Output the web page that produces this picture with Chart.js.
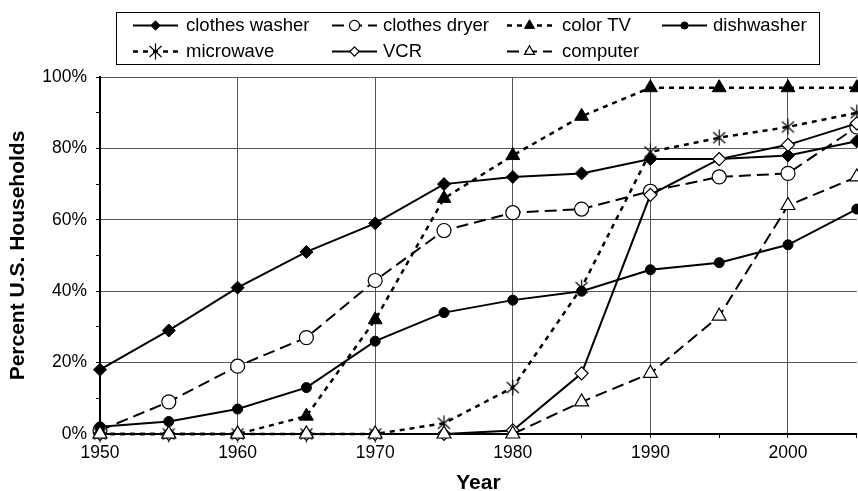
<!DOCTYPE html>
<html>
<head>
<meta charset="utf-8">
<script src="https://cdn.jsdelivr.net/npm/chart.js@4.4.1/dist/chart.umd.min.js"></script>
<style>
html, body { margin: 0; padding: 0; background: #fff; overflow: hidden; }
#wrap { width: 866px; height: 491px; }
</style>
</head>
<body>
<div id="wrap"><canvas id="homeChart"></canvas></div>
<script>
const years = [1950, 1955, 1960, 1965, 1970, 1975, 1980, 1985, 1990, 1995, 2000, 2005];
const yearLabels = ['1950', '1960', '1970', '1980', '1990', '2000'];
const pctLabels = ['0%', '20%', '40%', '60%', '80%', '100%'];

const washer = [18, 29, 41, 51, 59, 70, 72, 73, 77, 77, 78, 82];
const dryer = [1, 9, 19, 27, 43, 57, 62, 63, 68, 72, 73, 86];
const colorTV = [0, 0, 0, 5, 32, 66, 78, 89, 97, 97, 97, 97];
const dishwasher = [2, 3.5, 7, 13, 26, 34, 37.5, 40, 46, 48, 53, 63];
const microwave = [0, 0, 0, 0, 0, 3, 13, 41, 79, 83, 86, 90];
const vcr = [0, 0, 0, 0, 0, 0, 1, 17, 67, 77, 81, 87];
const computer = [0, 0, 0, 0, 0, 0, 0, 9, 17, 33, 64, 72];

const FONT = '"Liberation Sans", Arial, sans-serif';

// Excel style "star" marker: X with a vertical bar
const starMark = document.createElement('canvas');
starMark.width = 15;
starMark.height = 17;
(function () {
    const c = starMark.getContext('2d');
    c.strokeStyle = '#000';
    c.lineWidth = 1.2;
    c.beginPath();
    c.moveTo(1.5, 3); c.lineTo(13.5, 14);
    c.moveTo(13.5, 3); c.lineTo(1.5, 14);
    c.moveTo(7.5, 0.5); c.lineTo(7.5, 16.5);
    c.stroke();
})();

function pts(vals) {
    return years.map((yr, i) => ({ x: yr, y: vals[i] }));
}

function series(label, vals, opts) {
    return Object.assign({
        label: label,
        data: pts(vals),
        borderColor: '#000',
        borderWidth: 2,
        backgroundColor: '#000',
        pointBorderColor: '#000',
        pointBackgroundColor: '#000',
        pointBorderWidth: 1,
        tension: 0,
        clip: false
    }, opts);
}

const datasets = [
    series('clothes washer', washer, { pointStyle: 'rectRot', pointRadius: 6.5, order: 0 }),
    series('clothes dryer', dryer, { borderDash: [12, 6], pointStyle: 'circle', pointRadius: 7, pointBackgroundColor: '#fff', pointBorderWidth: 1.2, order: -1 }),
    series('color TV', colorTV, { borderDash: [5, 5], borderWidth: 2.5, pointStyle: 'triangle', pointRadius: 8, order: -2 }),
    series('dishwasher', dishwasher, { pointStyle: 'circle', pointRadius: 5, order: -3 }),
    series('microwave', microwave, { borderDash: [5, 5], borderWidth: 2.5, pointStyle: starMark, pointRadius: 8, order: -4 }),
    series('VCR', vcr, { pointStyle: 'rectRot', pointRadius: 6.5, pointBackgroundColor: '#fff', pointBorderWidth: 1.2, order: -5 }),
    series('computer', computer, { borderDash: [12, 6], pointStyle: 'triangle', pointRadius: 8, pointBackgroundColor: '#fff', pointBorderWidth: 1.2, order: -6 })
];

function drawMarker(ctx, ds, x, y, r) {
    const st = ds.pointStyle;
    if (st instanceof HTMLCanvasElement) {
        ctx.drawImage(st, x - st.width / 2, y - st.height / 2);
        return;
    }
    ctx.beginPath();
    if (st === 'circle') {
        ctx.arc(x, y, r, 0, Math.PI * 2);
    } else if (st === 'rectRot') {
        ctx.moveTo(x, y - r); ctx.lineTo(x + r, y); ctx.lineTo(x, y + r); ctx.lineTo(x - r, y);
        ctx.closePath();
    } else if (st === 'triangle') {
        ctx.moveTo(x, y - r);
        ctx.lineTo(x + r * 0.866, y + r * 0.5);
        ctx.lineTo(x - r * 0.866, y + r * 0.5);
        ctx.closePath();
    }
    ctx.fillStyle = ds.pointBackgroundColor;
    ctx.fill();
    ctx.lineWidth = ds.pointBorderWidth;
    ctx.strokeStyle = '#000';
    ctx.stroke();
}

// legend in a boxed 4-column grid, like the spreadsheet one
const boxLegend = {
    id: 'boxLegend',
    afterDraw(chart) {
        const ctx = chart.ctx;
        const lineX = [133, 332, 507, 662];
        const textX = [186, 383, 562, 713];
        const rowY = [25, 51];
        ctx.save();
        ctx.fillStyle = '#fff';
        ctx.fillRect(116.5, 12.5, 703, 52);
        ctx.strokeStyle = '#000';
        ctx.lineWidth = 1;
        ctx.strokeRect(116.5, 12.5, 703, 52);
        ctx.font = '18.5px ' + FONT;
        ctx.textBaseline = 'middle';
        chart.data.datasets.forEach((ds, i) => {
            const col = i % 4, row = Math.floor(i / 4);
            const x0 = lineX[col], y = rowY[row] + 0.5;
            ctx.strokeStyle = '#000';
            ctx.lineWidth = ds.borderWidth;
            ctx.setLineDash(ds.borderDash || []);
            ctx.beginPath();
            ctx.moveTo(x0, y);
            ctx.lineTo(x0 + 45, y);
            ctx.stroke();
            ctx.setLineDash([]);
            drawMarker(ctx, ds, x0 + 22.5, y, ds.pointRadius * 0.72);
            ctx.fillStyle = '#000';
            ctx.fillText(ds.label, textX[col], y);
        });
        ctx.restore();
    }
};

const ctx = document.getElementById('homeChart').getContext('2d');
const homeChart = new Chart(ctx, {
    type: 'line',
    data: { datasets: datasets },
    options: {
        responsive: true,
        maintainAspectRatio: false,
        animation: false,
        layout: { padding: { top: 77, right: 2, bottom: 0, left: 0 } },
        plugins: {
            legend: { display: false },
            tooltip: { enabled: false }
        },
        scales: {
            x: {
                type: 'linear',
                min: 1950,
                max: 2005,
                afterFit: (s) => { s.height = 57; },
                ticks: {
                    stepSize: 5,
                    autoSkip: false,
                    maxRotation: 0,
                    padding: 4.5,
                    color: '#000',
                    font: { family: FONT, size: 17.5 },
                    callback: (v) => yearLabels.includes(String(v)) ? String(v) : ''
                },
                grid: {
                    color: (c) => (c.tick && c.tick.value % 10 === 0) ? '#555' : 'rgba(0,0,0,0)',
                    tickColor: '#000',
                    tickLength: 4,
                    lineWidth: 1
                },
                border: { color: '#000', width: 2 },
                title: {
                    display: true,
                    text: 'Year',
                    color: '#000',
                    font: { family: FONT, size: 21, weight: 'bold', lineHeight: 0.75 },
                    padding: { top: 0, bottom: 0 }
                }
            },
            y: {
                min: 0,
                max: 100,
                afterFit: (s) => { s.width = 100; },
                ticks: {
                    stepSize: 10,
                    padding: 9,
                    color: '#000',
                    font: { family: FONT, size: 17.5 },
                    callback: (v) => v % 20 === 0 ? pctLabels[v / 20] : ''
                },
                grid: {
                    color: (c) => (c.tick && c.tick.value % 20 === 0) ? '#555' : 'rgba(0,0,0,0)',
                    tickColor: '#000',
                    tickLength: 4,
                    lineWidth: 1
                },
                border: { color: '#000', width: 2 },
                title: {
                    display: true,
                    text: 'Percent U.S. Households',
                    color: '#000',
                    font: { family: FONT, size: 21, weight: 'bold', lineHeight: 1 },
                    padding: { top: 7.5, bottom: 0 }
                }
            }
        }
    },
    plugins: [boxLegend]
});
</script>
</body>
</html>
